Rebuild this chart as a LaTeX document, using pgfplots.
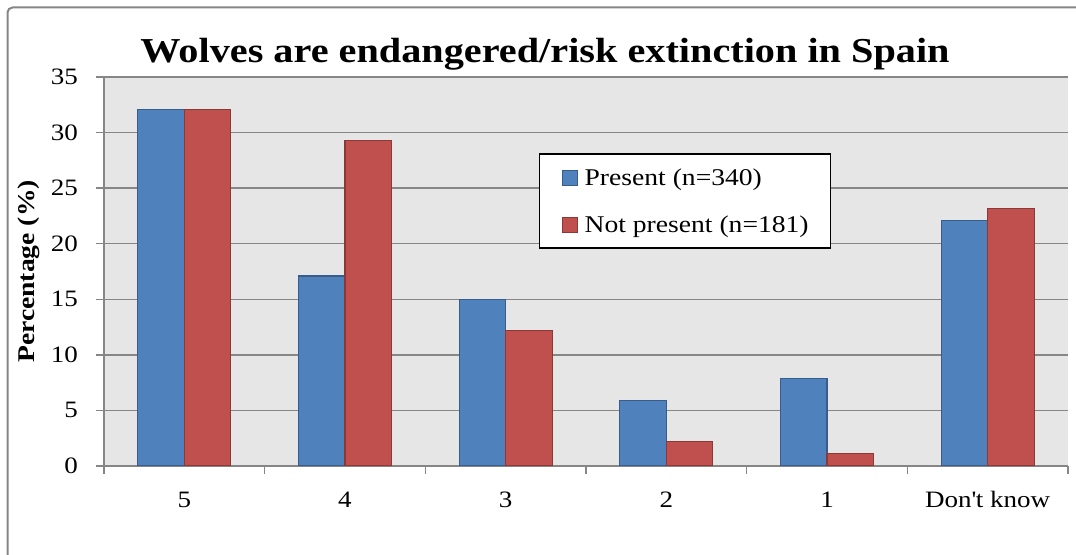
\documentclass[border=0pt]{standalone}
\usepackage{pgfplots}
\pgfplotsset{compat=1.18}
\usepackage{fontspec}
\setmainfont{Liberation Serif}[FakeStretch=1.15]

\definecolor{barblue}{RGB}{79,129,189}
\definecolor{barblueedge}{RGB}{56,93,138}
\definecolor{barred}{RGB}{192,80,77}
\definecolor{barrededge}{RGB}{140,56,54}
\definecolor{plotbg}{RGB}{230,230,230}
\definecolor{gridgray}{RGB}{134,134,134}

\begin{document}
\begin{tikzpicture}[x=1bp,y=1bp]
\useasboundingbox[fill=white] (0,0) rectangle (1076,555);
\draw[gridgray, line width=2bp, rounded corners=5bp] (7.5,0) -- (7.5,547.5) -- (1076,547.5);
\begin{axis}[
    at={(104bp,89bp)}, anchor=south west,
    width=964bp, height=389bp, scale only axis,
    xmin=-0.5, xmax=5.5, ymin=0, ymax=35,
    ybar=0pt, bar width=46.5bp,
    axis background/.style={fill=plotbg},
    axis x line*=bottom, axis y line*=left,
    axis line style={gridgray, line width=1.5bp, -},
    ytick={0,5,...,35},
    ymajorgrids, grid style={gridgray, line width=1.5bp},
    tick align=outside, major tick length=8bp,
    tick style={gridgray, line width=1.5bp},
    xtick={-0.5,0.5,...,5.5}, xticklabels={},
    extra x ticks={0,1,2,3,4,5},
    extra x tick labels={5,4,3,2,1,Don\textquotesingle t know},
    extra x tick style={major tick length=0pt, grid=none},
    tick label style={font=\fontsize{23.5bp}{28bp}\selectfont},
    /pgf/number format/assume math mode=true,
    yticklabel style={anchor=east, inner sep=0pt, xshift=-18bp},
    xticklabel style={anchor=base, inner sep=0pt, yshift=-42bp},
    ylabel={Percentage (\%)},
    every axis y label/.style={at={(rel axis cs:-0.0778,0.5)}, rotate=90, anchor=center,
        font=\bfseries\fontsize{24bp}{28bp}\selectfont},
    title={Wolves are endangered/risk extinction in Spain},
    every axis title/.style={at={(rel axis cs:0.4575,1.036)}, anchor=base, inner sep=0pt,
        font=\bfseries\fontsize{35bp}{40bp}\selectfont},
    legend style={at={(rel axis cs:0.451,0.8046)}, anchor=north west,
        draw=black, line width=1.5bp, fill=white,
        inner xsep=22bp, inner ysep=12bp, row sep=24bp,
        font=\fontsize{24bp}{28bp}\selectfont,
        nodes={inner sep=0pt, text height=20bp, text depth=3bp, anchor=base west}},
    legend cell align=left,
    legend image code/.code={\draw[#1, line width=1bp] (0bp,0bp) rectangle (15bp,15bp); \path (22bp,0bp);},
]
\addplot[fill=barblue, draw=barblueedge, line width=1.2bp]
    coordinates {(0,32.1) (1,17.1) (2,15.0) (3,5.9) (4,7.9) (5,22.1)};
\addplot[fill=barred, draw=barrededge, line width=1.2bp]
    coordinates {(0,32.1) (1,29.3) (2,12.2) (3,2.2) (4,1.1) (5,23.2)};
\legend{Present (n=340), Not present (n=181)}
\end{axis}
\end{tikzpicture}
\end{document}
